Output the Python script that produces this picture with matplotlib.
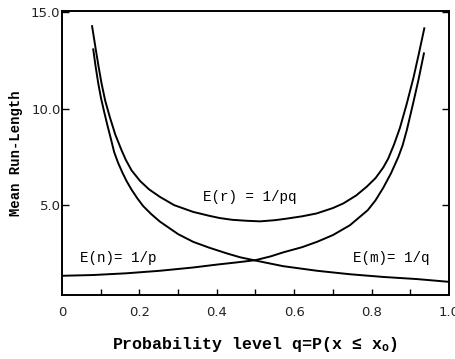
import matplotlib
matplotlib.use("Agg")
import matplotlib.pyplot as plt

plt.rcParams['mathtext.fontset'] = 'custom'
plt.rcParams['mathtext.rm'] = 'Liberation Mono'
plt.rcParams['mathtext.it'] = 'Liberation Mono'
plt.rcParams['mathtext.bf'] = 'Liberation Mono:bold'

# values
q_r = [0.078, 0.0874, 0.095, 0.1025, 0.112, 0.124, 0.138, 0.154, 0.165, 0.180,
       0.202, 0.225, 0.253, 0.290, 0.339, 0.380, 0.408, 0.440, 0.477, 0.512,
       0.550, 0.580, 0.620, 0.658, 0.700, 0.727, 0.760, 0.787, 0.810, 0.830,
       0.843, 0.858, 0.873, 0.890, 0.908, 0.922, 0.936]
E_r = [14.27, 13.08, 12.15, 11.30, 10.40, 9.55, 8.65, 7.85, 7.35, 6.80,
       6.25, 5.82, 5.43, 5.00, 4.65, 4.45, 4.33, 4.24, 4.19, 4.16,
       4.22, 4.30, 4.42, 4.57, 4.85, 5.09, 5.50, 5.95, 6.40, 6.95,
       7.42, 8.15, 9.00, 10.20, 11.60, 12.85, 14.16]

q_m = [0.081, 0.087, 0.094, 0.101, 0.109, 0.118, 0.127, 0.135, 0.145, 0.156,
       0.167, 0.180, 0.195, 0.210, 0.230, 0.253, 0.300, 0.339, 0.380, 0.426,
       0.460, 0.500, 0.571, 0.659, 0.744, 0.830, 0.917, 0.998]
E_m = [13.07, 12.20, 11.30, 10.55, 9.85, 9.10, 8.40, 7.75, 7.20, 6.70,
       6.25, 5.80, 5.35, 4.95, 4.55, 4.15, 3.50, 3.10, 2.80, 2.50,
       2.30, 2.13, 1.84, 1.60, 1.42, 1.28, 1.17, 1.03]

q_n = [0.0, 0.081, 0.167, 0.253, 0.339, 0.400, 0.450, 0.500, 0.540, 0.571,
       0.620, 0.659, 0.700, 0.744, 0.790, 0.810, 0.830, 0.850, 0.869, 0.880,
       0.891, 0.908, 0.921, 0.935]
E_n = [1.34, 1.38, 1.47, 1.60, 1.77, 1.92, 2.03, 2.15, 2.35, 2.55,
       2.82, 3.10, 3.45, 3.96, 4.74, 5.25, 5.90, 6.65, 7.50, 8.10,
       8.90, 10.35, 11.50, 12.86]

x_ticks = [0.1, 0.2, 0.3, 0.4, 0.5, 0.6, 0.7, 0.8, 0.9]
x_labels = ["0", "0.2", "0.4", "0.6", "0.8", "1.0"]
y_ticks = [5.0, 10.0, 15.0]
y_labels = ["5.0", "10.0", "15.0"]

fig = plt.figure(figsize=(4.55, 3.59), dpi=100)
ax = fig.add_axes([0.136, 0.178, 0.851, 0.791])

for q, e in [(q_r, E_r), (q_m, E_m), (q_n, E_n)]:
    ax.plot(q, e, color='black', lw=1.4)

ax.set_xlim(0, 1.0)
ax.set_ylim(0.34, 15.05)

ax.set_xticks(x_ticks)
ax.set_xticklabels([])
ax.tick_params(axis='x', direction='in', length=4, width=1, top=False)
for v, lab in zip([0, 0.2, 0.4, 0.6, 0.8, 1.0], x_labels):
    ax.text(v, -0.063, lab, transform=ax.get_xaxis_transform(), ha='center', va='center',
            fontsize=9.5, family='DejaVu Sans', color='#222222')

ax.set_yticks(y_ticks)
ax.set_yticklabels(y_labels, fontsize=9.5, family='DejaVu Sans', color='#222222')
ax.tick_params(axis='y', direction='in', length=5, width=1, right=True, pad=1)

for s in ax.spines.values():
    s.set_linewidth(1.4)

mono = ['Liberation Mono', 'DejaVu Sans Mono']
ax.text(0.365, 5.41, "E(r) = 1/pq", fontsize=10.3, family=mono, va='center')
ax.text(0.047, 2.25, "E(n)= 1/p", fontsize=10.3, family=mono, va='center')
ax.text(0.752, 2.24, "E(m)= 1/q", fontsize=10.3, family=mono, va='center')

ax.set_xlabel("Probability level q=P(x \u2264 x$_\\mathbf{o}$)", fontsize=12, family=mono,
              fontweight='bold', labelpad=25)
ax.set_ylabel("Mean Run-Length", fontsize=10, family=mono, fontweight='bold', labelpad=6)

fig.savefig("out.png", dpi=100)
